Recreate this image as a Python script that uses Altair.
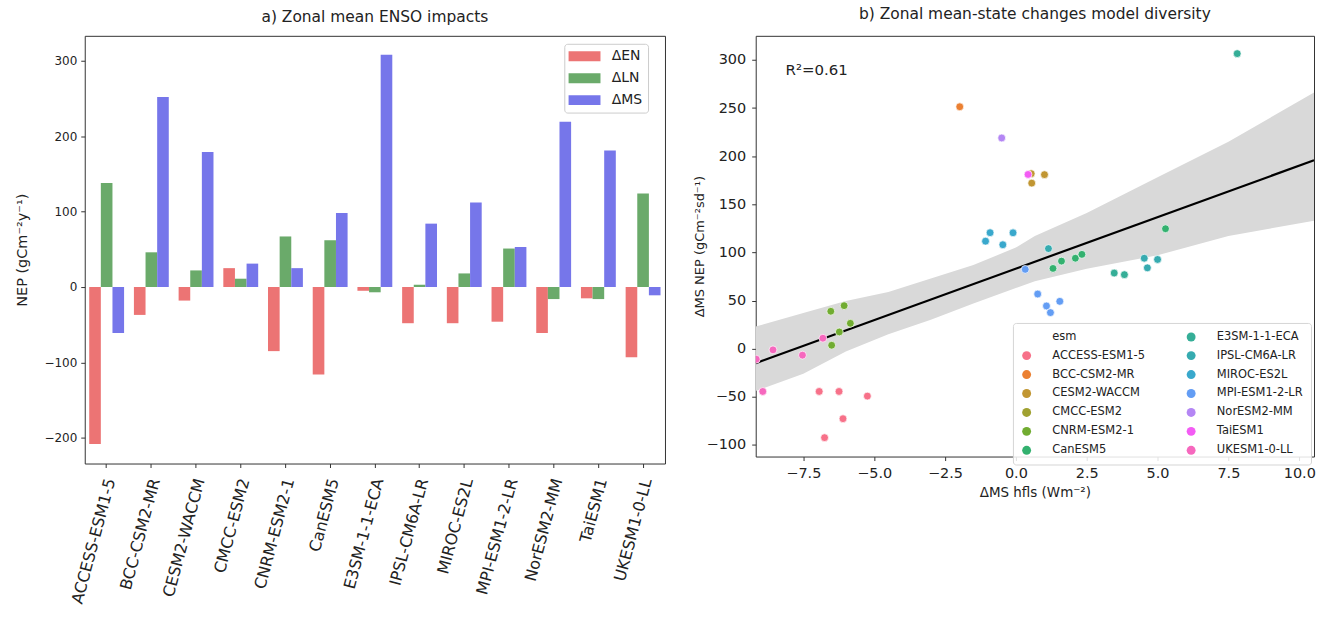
import math
import altair as alt
import pandas as pd

# ---------------- data: panel a ----------------
models = ["ACCESS-ESM1-5", "BCC-CSM2-MR", "CESM2-WACCM", "CMCC-ESM2", "CNRM-ESM2-1",
          "CanESM5", "E3SM-1-1-ECA", "IPSL-CM6A-LR", "MIROC-ES2L", "MPI-ESM1-2-LR",
          "NorESM2-MM", "TaiESM1", "UKESM1-0-LL"]
series = ["ΔEN", "ΔLN", "ΔMS"]
d_en = [-208, -37, -18, 25, -85, -116, -5, -48, -48, -46, -61, -15, -93]
d_ln = [138, 46, 22, 11, 67, 62, -7, 3, 18, 51, -16, -16, 124]
d_ms = [-61, 252, 179, 31, 25, 98, 308, 84, 112, 53, 219, 181, -11]
bar_colors = ["#ec7474", "#6aaa6a", "#7676ea"]

# ---------------- data: panel b ----------------
sc_model = ["ACCESS-ESM1-5", "ACCESS-ESM1-5", "ACCESS-ESM1-5", "ACCESS-ESM1-5", "ACCESS-ESM1-5",
            "BCC-CSM2-MR",
            "CESM2-WACCM", "CESM2-WACCM", "CESM2-WACCM",
            "CNRM-ESM2-1", "CNRM-ESM2-1", "CNRM-ESM2-1", "CNRM-ESM2-1", "CNRM-ESM2-1",
            "CanESM5", "CanESM5", "CanESM5", "CanESM5", "CanESM5",
            "E3SM-1-1-ECA", "E3SM-1-1-ECA", "E3SM-1-1-ECA",
            "IPSL-CM6A-LR", "IPSL-CM6A-LR", "IPSL-CM6A-LR", "IPSL-CM6A-LR",
            "MIROC-ES2L", "MIROC-ES2L", "MIROC-ES2L", "MIROC-ES2L",
            "MPI-ESM1-2-LR", "MPI-ESM1-2-LR", "MPI-ESM1-2-LR", "MPI-ESM1-2-LR", "MPI-ESM1-2-LR",
            "NorESM2-MM",
            "TaiESM1",
            "UKESM1-0-LL", "UKESM1-0-LL", "UKESM1-0-LL", "UKESM1-0-LL", "UKESM1-0-LL"]
sc_x = [-6.94, -6.24, -5.24, -6.10, -6.75,
        -1.98,
        0.54, 1.01, 0.56,
        -6.53, -6.06, -5.84, -6.23, -6.50,
        1.31, 1.61, 2.10, 2.33, 5.28,
        7.81, 3.47, 3.83,
        1.15, 4.53, 4.64, 5.00,
        -0.91, -1.07, -0.46, -0.10,
        0.33, 0.77, 1.08, 1.22, 1.55,
        -0.50,
        0.43,
        -6.81, -8.57, -7.53, -8.93, -9.16]
sc_y = [-44.4, -44.4, -49.2, -72.7, -92.4,
        251.3,
        181.8, 180.8, 172.0,
        38.9, 44.7, 26.4, 17.4, 3.6,
        83.4, 91.0, 94.0, 98.0, 124.6,
        306.5, 78.6, 76.9,
        104.0, 94.0, 84.0, 92.7,
        120.5, 111.7, 108.0, 120.4,
        82.4, 56.8, 44.4, 37.5, 49.2,
        218.9,
        181.0,
        10.9, -1.2, -6.7, -44.4, -10.9]

band_x = [-9.18, -7.5, -6.0, -4.5, -3.0, -1.5, 0.0, 0.67, 2.5, 5.0, 7.5, 10.52]
band_lo = [-44, -26, -3, 15, 30, 47, 63, 70, 83, 97, 117, 133]
band_hi = [23, 37, 49.5, 59, 73, 87, 105, 117, 141, 178, 215, 266]
line_x = [-9.18, 10.52]
line_y = [-15, 195.7]
r2_label = "R²=0.61"

FONT = "DejaVu Sans"
TXT = "#222222"


# ---------- seaborn-like husl palette (style only) ----------
_M = [[3.240969941904521, -1.537383177570093, -0.498610760293],
      [-0.96924363628087, 1.87596750150772, 0.041555057407175],
      [0.055630079696993, -0.20397695888897, 1.056971514242878]]
_refU, _refV = 0.19783000664283, 0.46831999493879


def _max_chroma(L, H):
    hrad = math.radians(H)
    sinH, cosH = math.sin(hrad), math.cos(hrad)
    sub1 = (L + 16) ** 3 / 1560896.0
    sub2 = sub1 if sub1 > 0.008856 else L / 903.3
    result = float("inf")
    for m1, m2, m3 in _M:
        top = (0.99915 * m1 + 1.05122 * m2 + 1.14460 * m3) * sub2
        rbottom = 0.86330 * m3 - 0.17266 * m2
        lbottom = 0.12949 * m3 - 0.38848 * m1
        bottom = (rbottom * sinH + lbottom * cosH) * sub2
        for t in (0.0, 1.0):
            C = L * (top - 1.05122 * t) / (bottom + 0.17266 * sinH * t)
            if 0.0 < C < result:
                result = C
    return result


def _husl_to_hex(H, S, L):
    C = _max_chroma(L, H) / 100.0 * S
    hr = math.radians(H)
    U, V = math.cos(hr) * C, math.sin(hr) * C
    t = (L + 16.0) / 116.0
    Y = t ** 3 if t ** 3 > 0.0088564516 else (116.0 * t - 16.0) / 903.2962962
    vu = U / (13.0 * L) + _refU
    vv = V / (13.0 * L) + _refV
    X = 0.0 - (9.0 * Y * vu) / ((vu - 4.0) * vv - vu * vv)
    Z = (9.0 * Y - 15.0 * vv * Y - vv * X) / (3.0 * vv)
    out = []
    for row in _M:
        c = row[0] * X + row[1] * Y + row[2] * Z
        c = 12.92 * c if c <= 0.0031308 else 1.055 * c ** (1 / 2.4) - 0.055
        c = min(max(c, 0.0), 1.0)
        out.append(int(round(c * 255)))
    return "#%02x%02x%02x" % tuple(out)


n = len(models)
palette = [_husl_to_hex(((i / n + 0.01) % 1) * 359, 0.9 * 99, 0.65 * 99) for i in range(n)]
col_of = dict(zip(models, palette))

# legend (filled column-first by Vega): "esm" header entry then the 13 models
legend_order = ["esm"] + models
legend_colors = ["rgba(0,0,0,0)" if v == "esm" else col_of[v] for v in legend_order]

# ---------------- panel a ----------------
bar_rows = []
for i, m in enumerate(models):
    for s, vals in zip(series, [d_en, d_ln, d_ms]):
        bar_rows.append({"model": m, "series": s, "value": vals[i]})
bar_df = pd.DataFrame(bar_rows)

left = alt.Chart(bar_df).mark_bar().encode(
    x=alt.X("model:N", sort=models,
            scale=alt.Scale(paddingInner=0.22, paddingOuter=0.1),
            axis=alt.Axis(title=None, labelAngle=285, labelAlign="right",
                          labelBaseline="middle", labelFontSize=16, labelPadding=11,
                          labelOffset=4, tickSize=4)),
    xOffset=alt.XOffset("series:N", sort=series,
                        scale=alt.Scale(paddingInner=0, paddingOuter=0)),
    y=alt.Y("value:Q", scale=alt.Scale(domain=[-234, 333], nice=False, zero=False),
            axis=alt.Axis(title="NEP (gCm⁻²y⁻¹)", values=[-200, -100, 0, 100, 200, 300],
                          format="d", labelFontSize=12, tickSize=4, labelPadding=4,
                          titleFontSize=14.5, titlePadding=14)),
    color=alt.Color("series:N", sort=series,
                    scale=alt.Scale(domain=series, range=bar_colors),
                    legend=alt.Legend(title=None, orient="none", legendX=481, legendY=8,
                                      symbolType="M-1.17,-0.714H3.4V0.714H-1.17Z",
                                      symbolSize=196, symbolStrokeWidth=0,
                                      labelFontSize=14, labelOffset=28, rowPadding=8,
                                      padding=5.5, fillColor="white",
                                      strokeColor="#cccccc", cornerRadius=3)),
).properties(width=582, height=429,
             title=alt.Title("a) Zonal mean ENSO impacts", fontSize=15.5,
                             fontWeight="normal", offset=10))

# ---------------- panel b ----------------
sc_df = pd.DataFrame({"esm": sc_model, "x": sc_x, "y": sc_y})
band_df = pd.DataFrame({"x": band_x, "lo": band_lo, "hi": band_hi})
line_df = pd.DataFrame({"x": line_x, "y": line_y})
r2_df = pd.DataFrame({"t": [r2_label]})

xs = alt.Scale(domain=[-9.18, 10.52], nice=False, zero=False)
ys = alt.Scale(domain=[-112, 325], nice=False, zero=False)
ax_x = alt.Axis(title="ΔMS hfls (Wm⁻²)", values=[-7.5, -5, -2.5, 0, 2.5, 5, 7.5, 10],
                format=".1f", labelFontSize=14.5, tickSize=4, labelPadding=6,
                titleFontSize=13.5, titlePadding=6)
ax_y = alt.Axis(title="ΔMS NEP (gCm⁻²sd⁻¹)", values=[-100, -50, 0, 50, 100, 150, 200, 250, 300],
                format="d", labelFontSize=14.5, tickSize=4, labelPadding=6,
                titleFontSize=13, titlePadding=0)

band = alt.Chart(band_df).mark_area(color="#d9d9d9", clip=True).encode(
    x=alt.X("x:Q", scale=xs, axis=ax_x),
    y=alt.Y("lo:Q", scale=ys, axis=ax_y),
    y2="hi:Q",
)
line = alt.Chart(line_df).mark_line(color="black", strokeWidth=2.2, clip=True).encode(
    x=alt.X("x:Q", scale=xs, axis=ax_x),
    y=alt.Y("y:Q", scale=ys, axis=ax_y),
)
pts = alt.Chart(sc_df).mark_circle(size=62, opacity=1, stroke="white",
                                   strokeWidth=0.7, clip=True).encode(
    x=alt.X("x:Q", scale=xs, axis=ax_x),
    y=alt.Y("y:Q", scale=ys, axis=ax_y),
    color=alt.Color("esm:N", sort=legend_order,
                    scale=alt.Scale(domain=legend_order, range=legend_colors),
                    legend=alt.Legend(title=None, orient="none", legendX=258, legendY=288,
                                      columns=2, columnPadding=40, rowPadding=6,
                                      symbolType="circle", symbolSize=80,
                                      symbolStrokeWidth=0, labelFontSize=11.5,
                                      labelOffset=20, padding=8,
                                      fillColor="rgba(255,255,255,0.85)",
                                      strokeColor="#d5d5d5", cornerRadius=3)),
)
r2 = alt.Chart(r2_df).mark_text(align="left", baseline="middle", fontSize=15,
                                font=FONT, color=TXT).encode(
    x=alt.value(30), y=alt.value(34), text="t:N")

right = alt.layer(band, line, pts, r2).properties(
    width=560, height=422,
    title=alt.Title("b) Zonal mean-state changes model diversity", fontSize=15.5,
                    fontWeight="normal", offset=13))

chart = alt.hconcat(left, right, spacing=26).resolve_scale(
    color="independent"
).resolve_legend(
    color="independent"
).properties(
    padding={"left": 14, "top": 6, "right": 2, "bottom": 2}
).configure(font=FONT).configure_view(
    stroke="#333333", strokeWidth=1
).configure_axis(
    grid=False, domain=False, tickColor="#333333", labelColor=TXT, titleColor=TXT,
    titleFontWeight="normal", labelFont=FONT, titleFont=FONT
).configure_legend(
    labelFont=FONT, labelColor=TXT
).configure_title(
    font=FONT, color=TXT, anchor="middle"
)

chart.save("out.html", embed_options={"renderer": "svg", "actions": False})
